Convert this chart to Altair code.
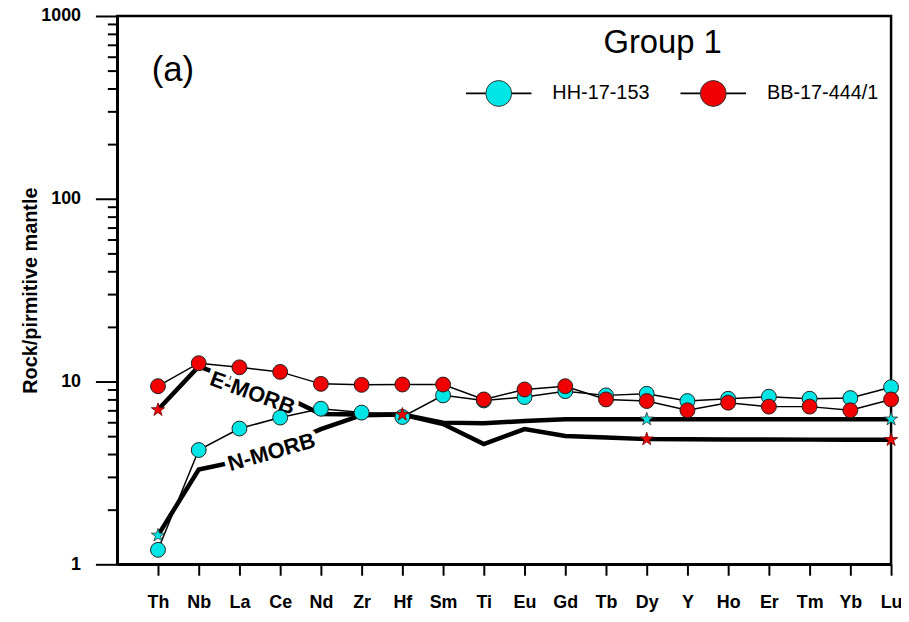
import altair as alt
import pandas as pd

# ---------------- data ----------------
elements = ["Th", "Nb", "La", "Ce", "Nd", "Zr", "Hf", "Sm", "Ti", "Eu",
            "Gd", "Tb", "Dy", "Y", "Ho", "Er", "Tm", "Yb", "Lu"]

samples = ["HH-17-153", "BB-17-444/1"]
hh_17_153 = [1.20, 4.22, 5.53, 6.35, 7.10, 6.76, 6.40, 8.40, 7.88, 8.22,
             8.86, 8.40, 8.57, 7.82, 8.05, 8.26, 8.05, 8.12, 9.31]
bb_17_444_1 = [9.43, 12.6, 11.96, 11.29, 9.71, 9.59, 9.63, 9.63, 7.98, 9.05,
               9.43, 7.98, 7.82, 6.96, 7.66, 7.29, 7.29, 6.96, 7.98]

models = ["E-MORB", "N-MORB"]
e_morb = [7.0, 12.1, 10.0, 8.5, 6.65, 6.6, 6.6, 5.85, 4.55, 5.49,
          5.04, 4.94, 4.84, 4.83, 4.82, 4.82, 4.81, 4.80, 4.80]
n_morb = [1.44, 3.30, 3.68, 4.40, 5.49, 6.54, 6.6, 5.96, 5.91, 6.08,
          6.22, 6.22, 6.22, 6.22, 6.22, 6.22, 6.22, 6.22, 6.22]

e_morb_star_elements = ["Th", "Hf", "Dy", "Lu"]
n_morb_star_elements = ["Th", "Dy", "Lu"]

# label anchors (element, value) for the model curves
label_elements = ["La", "Ce"]
label_values = [9.17, 4.23]

major_ticks = [1, 10, 100, 1000]
minor_ticks = [2, 3, 4, 5, 6, 7, 8, 9,
               20, 30, 40, 50, 60, 70, 80, 90,
               200, 300, 400, 500, 600, 700, 800, 900]

group_title = "Group 1"
panel_label = "(a)"

# ---------------- styles ----------------
FONT = "Liberation Sans"
CYAN = "#00e6e6"
RED = "#f00000"
COLORS = [CYAN, RED]
LABEL_ANGLES = [20, 344]
LABEL_DX = [14, -9]
LEGEND_CX = [384, 600]   # legend symbol centres (px from plot left)
LEGEND_CY = 78
STAR = ("M0,-1L0.2245,-0.309L0.951,-0.309L0.363,0.118L0.588,0.809L0,0.382"
        "L-0.588,0.809L-0.363,0.118L-0.951,-0.309L-0.2245,-0.309Z")

# ---------------- tables ----------------
sample_df = pd.DataFrame(
    [{"element": e, "idx": i, "sample": s, "value": v}
     for s, vals in zip(samples, [hh_17_153, bb_17_444_1])
     for i, (e, v) in enumerate(zip(elements, vals))]
)
model_df = pd.DataFrame(
    [{"element": e, "idx": i, "model": m, "value": v}
     for m, vals in zip(models, [e_morb, n_morb])
     for i, (e, v) in enumerate(zip(elements, vals))]
)
e_star_df = model_df[(model_df.model == "E-MORB") & model_df.element.isin(e_morb_star_elements)].reset_index(drop=True)
n_star_df = model_df[(model_df.model == "N-MORB") & model_df.element.isin(n_morb_star_elements)].reset_index(drop=True)
label_df = pd.DataFrame({"element": label_elements, "value": label_values, "model": models})

# ---------------- encodings ----------------
y_scale = alt.Scale(type="log", domain=[1, 1000], nice=False)

x_enc = alt.X(
    "element:N",
    sort=elements,
    scale=alt.Scale(type="point", domain=elements, padding=0.5, align=1),
    axis=alt.Axis(
        title=None, labelAngle=0, labelFont=FONT, labelFontSize=18,
        labelFontWeight="bold", labelColor="black", labelPadding=18,
        tickSize=11, tickWidth=2, tickColor="black",
        domainColor="black", domainWidth=2.5, grid=False, orient="bottom",
    ),
)
y_enc = alt.Y(
    "value:Q",
    scale=y_scale,
    axis=alt.Axis(
        orient="left",
        title="Rock/pirmitive mantle", titleFont=FONT, titleFontSize=20,
        titleFontWeight="bold", titleColor="black", titlePadding=0,
        values=major_ticks, format="d",
        labelFont=FONT, labelFontSize=18, labelFontWeight="bold",
        labelColor="black", labelPadding=15,
        tickSize=22, tickWidth=2, tickColor="black",
        domainColor="black", domainWidth=2.5, grid=False,
    ),
)
y_minor_enc = alt.Y(
    "value:Q",
    scale=y_scale,
    axis=alt.Axis(
        orient="left", title=None, values=minor_ticks, labels=False,
        tickSize=10, tickWidth=2, tickColor="black", domain=False, grid=False,
    ),
)

# ---------------- layers ----------------
morb_lines = alt.Chart(model_df).mark_line(color="black", strokeWidth=4.5).encode(
    x=x_enc, y=y_enc, detail="model:N", order="idx:Q"
)

label_layers = []
for i, m in enumerate(models):
    sub = label_df[label_df.model == m]
    base = alt.Chart(sub)
    label_layers.append(base.mark_text(
        font=FONT, fontSize=22, fontWeight="bold", stroke="white", strokeWidth=9,
        fill="white", align="center", baseline="middle", angle=LABEL_ANGLES[i], dx=LABEL_DX[i],
    ).encode(x=x_enc, y=y_enc, text="model:N"))
    label_layers.append(base.mark_text(
        font=FONT, fontSize=22, fontWeight="bold", color="black",
        align="center", baseline="middle", angle=LABEL_ANGLES[i], dx=LABEL_DX[i],
    ).encode(x=x_enc, y=y_enc, text="model:N"))

sample_lines = alt.Chart(sample_df).mark_line(color="black", strokeWidth=1.5).encode(
    x=x_enc, y=y_enc, detail="sample:N", order="idx:Q"
)

circles = alt.Chart(sample_df).mark_point(
    shape="circle", filled=True, size=225, stroke="#222222", strokeWidth=1, opacity=1,
).encode(
    x=x_enc, y=y_enc,
    fill=alt.Fill("sample:N", scale=alt.Scale(domain=samples, range=COLORS), legend=None),
)

n_stars = alt.Chart(n_star_df).mark_point(
    shape=STAR, filled=True, size=200, fill=CYAN, stroke="#333333", strokeWidth=0.8, opacity=1,
).encode(x=x_enc, y=y_enc)

e_stars = alt.Chart(e_star_df).mark_point(
    shape=STAR, filled=True, size=200, fill=RED, stroke="#660000", strokeWidth=0.8, opacity=1,
).encode(x=x_enc, y=y_enc)

one = pd.DataFrame({"t": [panel_label]})
panel_tag = alt.Chart(one).mark_text(
    font=FONT, fontSize=35, color="black", align="center", baseline="middle",
).encode(text="t:N", x=alt.value(56), y=alt.value(54))

# ---------------- hand-built legend ----------------
legend_layers = [
    alt.Chart(pd.DataFrame({"t": [group_title]})).mark_text(
        font=FONT, fontSize=33, color="black", align="center", baseline="middle",
    ).encode(text="t:N", x=alt.value(549), y=alt.value(27))
]
for i, s in enumerate(samples):
    d = pd.DataFrame({"sample": [s]})
    cx = LEGEND_CX[i]
    legend_layers.append(alt.Chart(d).mark_rule(color="black", strokeWidth=1.8).encode(
        x=alt.value(cx - 33), x2=alt.value(cx + 33), y=alt.value(LEGEND_CY)))
    legend_layers.append(alt.Chart(d).mark_point(
        shape="circle", filled=True, size=676, fill=COLORS[i], stroke="#333333",
        strokeWidth=1, opacity=1,
    ).encode(x=alt.value(cx), y=alt.value(LEGEND_CY)))
    legend_layers.append(alt.Chart(d).mark_text(
        font=FONT, fontSize=20, color="black", align="left", baseline="middle",
    ).encode(text="sample:N", x=alt.value(cx + 54), y=alt.value(LEGEND_CY)))

main = alt.layer(morb_lines, *label_layers, sample_lines, circles, n_stars, e_stars,
                 panel_tag, *legend_layers)

minor = alt.Chart(sample_df).mark_point(opacity=0).encode(x=x_enc, y=y_minor_enc)

chart = alt.layer(main, minor).resolve_axis(y="independent").properties(
    width=779, height=552,
    background="white",
    autosize=alt.AutoSizeParams(type="none"),
    padding={"left": 110, "top": 6, "right": 10, "bottom": 50},
).configure_view(
    stroke="black", strokeWidth=2.5
)

chart.save("out.html", embed_options={"renderer": "svg", "actions": False})
